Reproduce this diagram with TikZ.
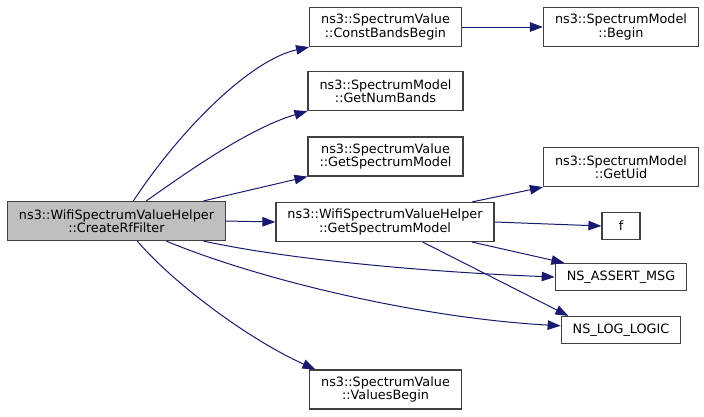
\documentclass[tikz,border=0pt]{standalone}
\usepackage{fontspec}
\setmainfont{DejaVu Sans}
\usepackage{tikz}
\usetikzlibrary{arrows.meta}
\definecolor{edgeblue}{HTML}{191970}
\definecolor{boxline}{HTML}{404040}
\definecolor{rootfill}{HTML}{BFBFBF}

\begin{document}
\begin{tikzpicture}[x=1pt, y=-1pt, >={Triangle[length=13pt, width=9.5pt]},
    fn/.style = {draw=boxline, line width=1.2pt, align=center, font={\fontsize{12.8}{13.5}\selectfont}, inner xsep=11.5pt, minimum height=39pt},
    leaf/.style = {fn, minimum height=27pt},
    call/.style = {->, draw=edgeblue, line width=1pt}]
    \useasboundingbox (0,0) rectangle (704,416);
    \node[fn, fill=rootfill] (filter) at (116.5,221) {ns3::WifiSpectrumValueHelper\\::CreateRfFilter};
    \node[fn] (bands) at (385.5,27) {ns3::SpectrumValue\\::ConstBandsBegin};
    \node[fn] (begin) at (621,27) {ns3::SpectrumModel\\::Begin};
    \node[fn] (numbands) at (385.5,91) {ns3::SpectrumModel\\::GetNumBands};
    \node[fn] (valmodel) at (385.5,156.5) {ns3::SpectrumValue\\::GetSpectrumModel};
    \node[fn] (helpmodel) at (385,222) {ns3::WifiSpectrumValueHelper\\::GetSpectrumModel};
    \node[fn] (uid) at (621,167) {ns3::SpectrumModel\\::GetUid};
    \node[leaf, minimum width=38pt] (f) at (621,226) {f};
    \node[leaf] (assert) at (621,277) {NS\_ASSERT\_MSG};
    \node[leaf] (logic) at (621,330) {NS\_LOG\_LOGIC};
    \node[fn] (values) at (385.5,389.5) {ns3::SpectrumValue\\::ValuesBegin};
    \draw[call] (filter.50) .. controls (180,130) and (250,60) .. (bands.south west);
    \draw[call] (filter.34) .. controls (190,170) and (250,128) .. (numbands.south west);
    \draw[call] (filter.13) -- (valmodel.south west);
    \draw[call] (filter.east) -- (helpmodel.west);
    \draw[call] (filter.-13) .. controls (300,262) and (450,273) .. (assert.west);
    \draw[call] (filter.-22) .. controls (260,280) and (420,318) .. (logic.176);
    \draw[call] (filter.-44) .. controls (175,285) and (250,340) .. (values.164);
    \draw[call] (bands.east) -- (begin.west);
    \draw[call] (helpmodel.13) -- (uid.south west);
    \draw[call] (helpmodel.east) -- (f.west);
    \draw[call] (helpmodel.-13) -- (assert.166);
    \draw[call] (helpmodel.-28) -- (logic.165);
\end{tikzpicture}
\end{document}
